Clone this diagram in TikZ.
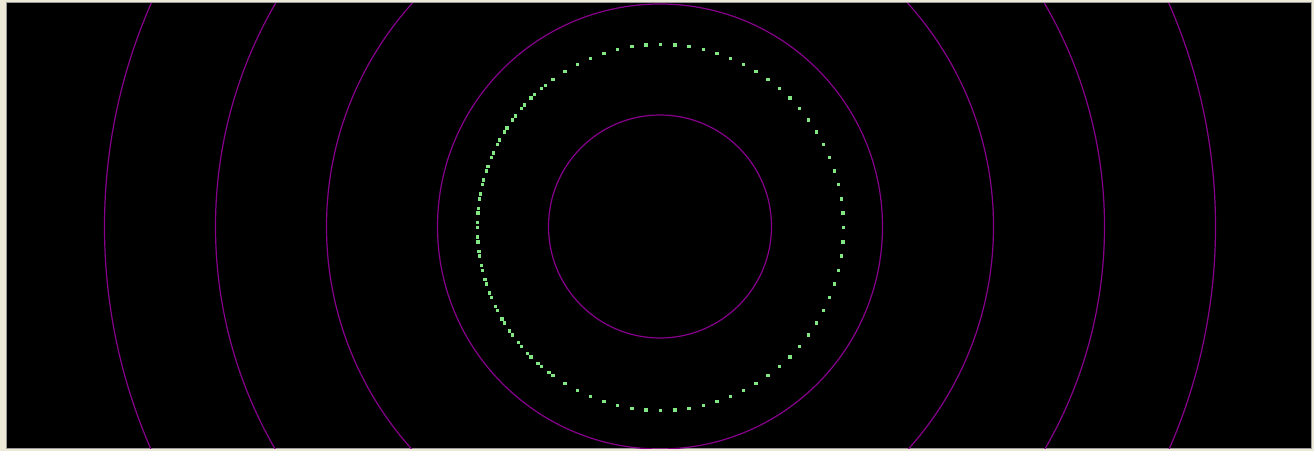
\documentclass[tikz,border=0pt]{standalone}
\usetikzlibrary{calc}
\definecolor{beige}{RGB}{236,233,216}
\definecolor{ringpurple}{RGB}{135,0,140}
\definecolor{dotgreen}{RGB}{130,230,130}
\tikzset{ring/.style={draw=ringpurple,line width=1.2pt},
  gdot/.style={fill=dotgreen}}
\begin{document}
\begin{tikzpicture}[x=1pt,y=-1pt]
\useasboundingbox (0,0) rectangle (1314,451);
\fill[beige] (0,0) rectangle (1314,451);
\fill[black!40] (6,2) rectangle (1312,449);
\fill[black] (7,3) rectangle (1311,448);
\begin{scope}
\clip (7,3) rectangle (1311,448);
\coordinate (c) at (660,226.5);
\foreach \r in {111.5,222.5,333.5,444.5,555.5}
  \draw[ring] (c) circle[radius=\r];
\coordinate (g) at (660.5,227.5);
\foreach \a in {0,4.5,...,355.5}
  \fill[gdot] ($(g)+(\a:183)$) ++(-1.7,-1.7) rectangle ++(3.4,3.4);
\foreach \a in {127.5,132,...,232}
  \fill[gdot] ($(g)+(\a:183)$) ++(-1.7,-1.7) rectangle ++(3.4,3.4);
\end{scope}
\end{tikzpicture}
\end{document}
